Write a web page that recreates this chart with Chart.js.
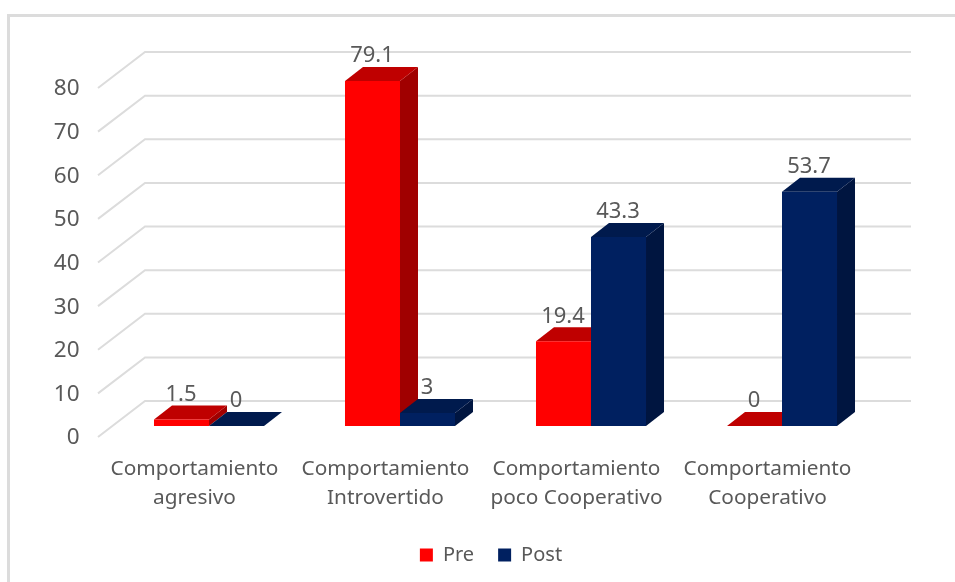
<!DOCTYPE html>
<html>
<head>
<meta charset="utf-8">
<script src="https://cdn.jsdelivr.net/npm/chart.js@4"></script>
<style>
    html, body { margin: 0; padding: 0; background: #fff; }
    canvas { display: block; }
</style>
</head>
<body>
<canvas id="chart" width="955" height="582"></canvas>
<script>
const categories = [
    ["Comportamiento", "agresivo"],
    ["Comportamiento", "Introvertido"],
    ["Comportamiento", "poco Cooperativo"],
    ["Comportamiento", "Cooperativo"]
];
const preValues = [1.5, 79.1, 19.4, 0];
const postValues = [0, 3, 43.3, 53.7];
const yTicks = [0, 10, 20, 30, 40, 50, 60, 70, 80];

const textColor = "#595959";
const fontFamily = "'Noto Sans', 'Open Sans', sans-serif";

// face colours of the fake 3D boxes
const shades = [
    { front: "#FF0000", top: "#BF0000", side: "#A00000" },
    { front: "#002060", top: "#001A4D", side: "#001540" }
];
const BAR_DX = 18, BAR_DY = 14;    // box depth
const WALL_DX = 47, WALL_DY = 36;  // depth of floor and side wall
const WALL_BACK = 25;              // back wall sits this far above the bar plane

function poly(ctx, pts, color) {
    ctx.fillStyle = color;
    ctx.beginPath();
    pts.forEach((p, i) => i ? ctx.lineTo(p[0], p[1]) : ctx.moveTo(p[0], p[1]));
    ctx.closePath();
    ctx.fill();
}

const frame3d = {
    id: "frame3d",
    beforeDraw(chart) {
        const ctx = chart.ctx;
        ctx.save();
        ctx.strokeStyle = "#DCDCDC";
        ctx.lineWidth = 3;
        ctx.beginPath();
        ctx.moveTo(8.5, chart.height);
        ctx.lineTo(8.5, 15.5);
        ctx.lineTo(chart.width, 15.5);
        ctx.stroke();
        ctx.restore();
    },
    beforeDatasetsDraw(chart) {
        const ctx = chart.ctx;
        const area = chart.chartArea;
        const y = chart.scales.y;
        ctx.save();

        // back wall + left wall lines
        const wallLeft = area.left - 15.5;
        const wallRight = area.right - 13.5;
        ctx.strokeStyle = "#DCDCDC";
        ctx.lineWidth = 2;
        y.ticks.forEach(t => {
            const py = y.getPixelForValue(t.value) - WALL_BACK;
            ctx.beginPath();
            ctx.moveTo(wallLeft, py + WALL_DY);
            ctx.lineTo(wallLeft + WALL_DX, py);
            ctx.lineTo(wallRight + WALL_DX, py);
            ctx.stroke();
        });

        // sides and tops, Pre first so Post covers it; fronts come from Chart.js
        chart.data.datasets.forEach((ds, d) => {
            chart.getDatasetMeta(d).data.forEach(bar => {
                const l = bar.x - bar.width / 2;
                const r = bar.x + bar.width / 2;
                poly(ctx, [[r, bar.y], [r + BAR_DX, bar.y - BAR_DY], [r + BAR_DX, bar.base - BAR_DY], [r, bar.base]], shades[d].side);
                poly(ctx, [[l, bar.y], [l + BAR_DX, bar.y - BAR_DY], [r + BAR_DX, bar.y - BAR_DY], [r, bar.y]], shades[d].top);
            });
        });
        ctx.restore();
    },
    afterDatasetsDraw(chart) {
        const ctx = chart.ctx;
        ctx.save();
        ctx.fillStyle = textColor;
        ctx.font = "22px " + fontFamily;
        ctx.textAlign = "center";
        ctx.textBaseline = "middle";
        chart.data.datasets.forEach((ds, d) => {
            chart.getDatasetMeta(d).data.forEach((bar, i) => {
                ctx.fillText(String(ds.data[i]), bar.x - 0.5, bar.y - 25);
            });
        });
        ctx.restore();
    }
};

new Chart(document.getElementById("chart"), {
    type: "bar",
    data: {
        labels: categories,
        datasets: [
            { label: "Pre", data: preValues, backgroundColor: shades[0].front },
            { label: "Post", data: postValues, backgroundColor: shades[1].front }
        ]
    },
    options: {
        responsive: false,
        animation: false,
        categoryPercentage: 0.576,
        barPercentage: 1,
        layout: { padding: { left: 27, right: 0, top: 77, bottom: 7 } },
        plugins: {
            legend: {
                position: "bottom",
                labels: {
                    boxWidth: 13,
                    boxHeight: 13,
                    padding: 24,
                    color: "#595959",
                    font: { family: fontFamily, size: 20 }
                }
            },
            tooltip: { enabled: false }
        },
        scales: {
            x: {
                grid: { display: false },
                border: { display: false },
                ticks: {
                    color: textColor,
                    font: { family: fontFamily, size: 20.8, lineHeight: 1.38 },
                    padding: 21,
                    labelOffset: -14.5,
                    maxRotation: 0,
                    autoSkip: false
                },
                afterFit(scale) { scale.height = 95; }
            },
            y: {
                min: 0,
                max: 80,
                grid: { display: false, drawTicks: false },
                border: { display: false },
                afterBuildTicks(scale) { scale.ticks = yTicks.map(v => ({ value: v })); },
                ticks: {
                    color: textColor,
                    font: { family: fontFamily, size: 22.5 },
                    padding: 34,
                    labelOffset: 12
                },
                afterFit(scale) { scale.width = 86.5; }
            },
            // empty axis, only reserves the room right of the plot
            yRight: {
                axis: "y",
                position: "right",
                grid: { display: false },
                border: { display: false },
                ticks: { display: false },
                afterFit(scale) { scale.width = 77.5; }
            }
        }
    },
    plugins: [frame3d]
});
</script>
</body>
</html>
